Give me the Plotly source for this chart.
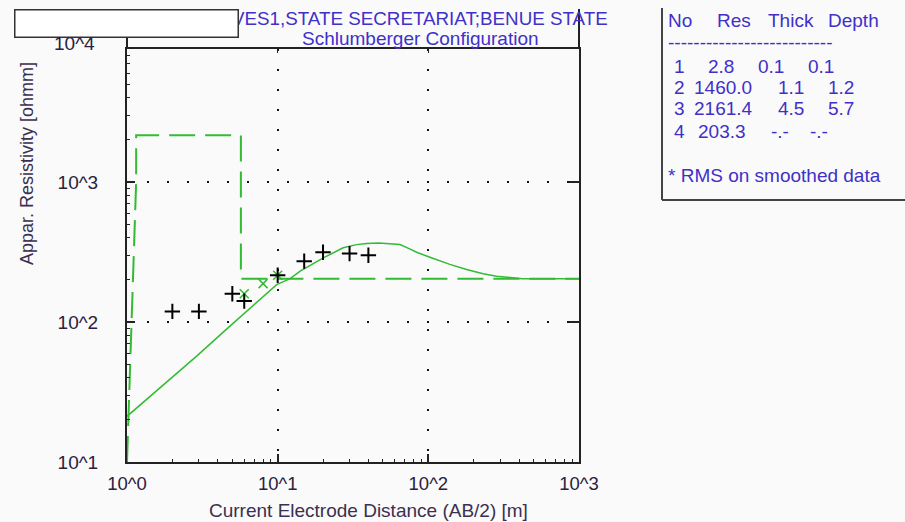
import plotly.graph_objects as go

# ---------------- data ----------------
# Observed field data: AB/2 [m] vs apparent resistivity [ohm.m]
obs_ab2 = [2, 3, 5, 6, 10, 15, 20, 30, 40]
obs_rho = [119, 119, 159, 141, 216, 272, 315, 308, 300]

# Smoothed data points (green crosses)
smooth_ab2 = [6, 8, 10]
smooth_rho = [159, 188, 216]

# Calculated response curve
calc_ab2 = [1.0, 2.9, 4.6, 5.6, 9.85, 12.1, 14.1, 20.1, 27.2, 33.4, 39, 47, 55.6,
            64.8, 73.3, 83.6, 102.5, 139, 179.5, 231, 284, 348, 420, 1000]
calc_rho = [21.2, 57, 89.3, 107.7, 185, 204, 231, 287, 339, 357, 364, 366, 364,
            358, 337, 315, 290, 258, 237, 221, 212, 207, 204, 203.3]

# Layered model as drawn (dashed step line)
model_ab2 = [1.0, 1.15, 1.15, 5.7, 5.7, 1000]
model_rho = [10, 1000, 2161.4, 2161.4, 203.3, 203.3]

# Layer table
layer_no = [1, 2, 3, 4]
layer_res = [2.8, 1460.0, 2161.4, 203.3]
layer_thick = [0.1, 1.1, 4.5, None]
layer_depth = [0.1, 1.2, 5.7, None]
table_header = ["No", "Res", "Thick", "Depth"]

# Tick labels
x_tickvals = [1, 10, 100, 1000]
x_ticktext = ["10^0", "10^1", "10^2", "10^3"]
y_tickvals = [10, 100, 1000]
y_ticktext = ["10^1", "10^2", "10^3"]
y_top_label = "10^4"

title_line1 = "VES1,STATE SECRETARIAT;BENUE STATE"
title_line2 = "Schlumberger Configuration"
x_title = "Current Electrode Distance (AB/2) [m]"
y_title = "Appar. Resistivity [ohmm]"
rms_note = "* RMS on smoothed data"

# ---------------- styling / layout helpers ----------------
W, H = 905, 522
L, R, T, B = 127, 579, 49, 462
FONT = "Arial, 'Liberation Sans', sans-serif"
GREEN = "#33bb33"
BLUE = "#4030c8"
DARK = "#2a2040"
LINE = "#222222"
BG = "#fafafa"


def px_x(px):
    return (px - L) / (R - L)


def px_y(py):
    return (B - py) / (B - T)


x_minor = [m * 10 ** d for d in range(0, 3) for m in range(2, 10)]
y_minor = [m * 10 ** d for d in range(1, 4) for m in range(2, 10)]

fig = go.Figure()

fig.add_trace(go.Scatter(
    x=model_ab2, y=model_rho, mode="lines",
    line=dict(color=GREEN, width=2, dash="26px,10px"),
    hoverinfo="skip", showlegend=False))

fig.add_trace(go.Scatter(
    x=calc_ab2, y=calc_rho, mode="lines",
    line=dict(color=GREEN, width=1.5),
    hoverinfo="skip", showlegend=False))

fig.add_trace(go.Scatter(
    x=smooth_ab2, y=smooth_rho, mode="markers",
    marker=dict(symbol="x-thin", size=9, line=dict(color=GREEN, width=1.5)),
    hoverinfo="skip", showlegend=False))

fig.add_trace(go.Scatter(
    x=obs_ab2, y=obs_rho, mode="markers",
    marker=dict(symbol="cross-thin", size=11, line=dict(color="black", width=2)),
    hoverinfo="skip", showlegend=False))

# empty trace to host the mirrored tick axes (top / right)
fig.add_trace(go.Scatter(x=[], y=[], xaxis="x2", yaxis="y2",
                         hoverinfo="skip", showlegend=False))

axis_common = dict(
    type="log", showline=True, linecolor=LINE, linewidth=2, mirror=True,
    ticks="inside", ticklen=8, tickwidth=1.5, tickcolor=LINE,
    showgrid=True, gridcolor="#111111", gridwidth=1.5, griddash="2px,18px",
    zeroline=False,
)

fig.update_layout(
    width=W, height=H, autosize=False,
    paper_bgcolor=BG, plot_bgcolor=BG,
    margin=dict(l=L, r=W - R, t=T, b=H - B, pad=0),
    xaxis=dict(range=[0, 3], tickvals=x_tickvals, ticktext=x_ticktext,
               ticklabelstandoff=4,
               tickfont=dict(family=FONT, size=18.5, color=DARK),
               minor=dict(ticks="inside", ticklen=3, tickcolor=LINE, tickwidth=1,
                          tickvals=x_minor, showgrid=False),
               **axis_common),
    yaxis=dict(range=[1, 1 + (B - T) / 140.0], tickvals=y_tickvals, ticktext=y_ticktext,
               ticklabelstandoff=23,
               tickfont=dict(family=FONT, size=19, color=DARK),
               minor=dict(ticks="inside", ticklen=3, tickcolor=LINE, tickwidth=1,
                          tickvals=y_minor, showgrid=False),
               **axis_common),
    xaxis2=dict(type="log", range=[0, 3], overlaying="x", side="top", anchor="y2",
                tickvals=[10, 100], ticks="inside", ticklen=4, tickcolor=LINE,
                showticklabels=False, showgrid=False, showline=False, zeroline=False),
    yaxis2=dict(type="log", range=[1, 1 + (B - T) / 140.0], overlaying="y", side="right",
                anchor="x2", tickvals=[100, 1000], ticks="inside", ticklen=10,
                tickcolor=LINE, tickwidth=1.5,
                showticklabels=False, showgrid=False, showline=False, zeroline=False),
    showlegend=False,
)

shapes = [
    # left axis extends up to the header box
    dict(type="line", xref="paper", yref="paper", x0=0, x1=0, y0=1, y1=px_y(37),
         line=dict(color=LINE, width=2)),
    # right axis extends up to the top
    dict(type="line", xref="paper", yref="paper", x0=1, x1=1, y0=1, y1=px_y(9),
         line=dict(color=LINE, width=2)),
    # table frame
    dict(type="line", xref="paper", yref="paper", x0=px_x(662), x1=px_x(662),
         y0=px_y(8), y1=px_y(200), line=dict(color="#444444", width=2)),
    dict(type="line", xref="paper", yref="paper", x0=px_x(662), x1=px_x(910),
         y0=px_y(200), y1=px_y(200), line=dict(color="#444444", width=2)),
]
fig.update_layout(shapes=shapes)

ann = []


def text(s, x, y, size=19, color=BLUE, xanchor="left", angle=0):
    ann.append(dict(text=s, x=px_x(x), y=px_y(y), xref="paper", yref="paper",
                    xanchor=xanchor, yanchor="middle", showarrow=False,
                    textangle=angle, font=dict(family=FONT, size=size, color=color)))


# titles
text(title_line1, 610, 18, size=18.8, xanchor="right")
text(title_line2, 420, 39, size=19, xanchor="center")
# header box that overlaps the title (drawn after the title so it covers it)
ann.append(dict(text="\u00a0", x=px_x(14), y=px_y(9), xref="paper", yref="paper",
                xanchor="left", yanchor="top", showarrow=False,
                width=222, height=26, borderpad=0, borderwidth=1.5,
                bordercolor="#333333", bgcolor="white"))

# axis titles and the top y tick label
text(x_title, 368, 510, size=19, color="#3a3050", xanchor="center")
text(y_title, 27, 164, size=18, color="#3a3050", xanchor="center", angle=-90)
text(y_top_label, 97, 43, size=19, color=DARK, xanchor="right")

# table
header_x = [666, 715, 766, 826]
for s, xx in zip(table_header, header_x):
    text(s, xx, 21, size=19)
text("-" * 26, 666, 42, size=19)
no_x = [672, 672, 672, 672]
res_x = [706, 692, 692, 696]
thick_x = [756, 776, 776, 769]
depth_x = [806, 826, 826, 808]
row_y = [66, 87.5, 109, 131]


def fmt(v):
    return "-.-" if v is None else f"{v:.1f}"


for i in range(len(layer_no)):
    text(str(layer_no[i]), no_x[i], row_y[i])
    text(fmt(layer_res[i]), res_x[i], row_y[i])
    text(fmt(layer_thick[i]), thick_x[i], row_y[i])
    text(fmt(layer_depth[i]), depth_x[i], row_y[i])
text(rms_note, 666, 175, size=19)

fig.update_layout(annotations=ann)

fig.write_html(
    "out.html",
    config={"displayModeBar": False},
    post_script="document.body.style.margin='0';document.body.style.padding='0';"
                "document.body.style.overflow='hidden';",
)
